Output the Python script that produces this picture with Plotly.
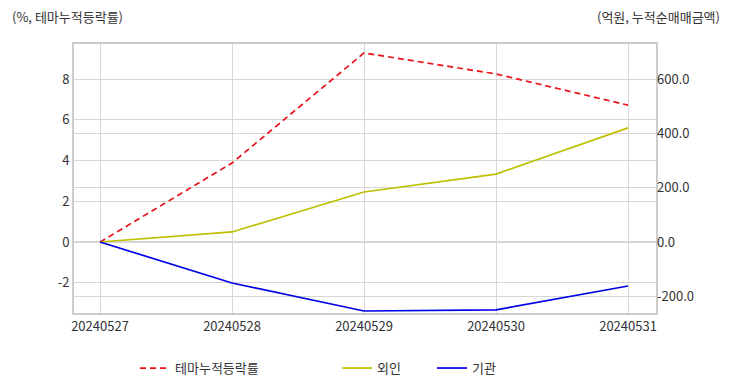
import plotly.graph_objects as go

dates = ["20240527", "20240528", "20240529", "20240530", "20240531"]
theme_rate = [0.0, 3.88, 9.28, 8.25, 6.72]
foreign = [0.0, 37.0, 184.0, 250.0, 420.0]
institution = [0.0, -151.0, -254.0, -250.0, -162.0]

left_ticks = [-2, 0, 2, 4, 6, 8]
left_labels = ["-2", "0", "2", "4", "6", "8"]
right_ticks = [-200, 0, 200, 400, 600]
right_labels = ["-200.0", "0.0", "200.0", "400.0", "600.0"]

FONT = "Noto Sans CJK KR"
TXT = "#333333"

fig = go.Figure()
fig.add_trace(go.Scatter(x=dates, y=theme_rate, name="테마누적등락률", mode="lines",
                         line=dict(color="#e8121a", width=1.7, dash="6px,4px"), yaxis="y",
                         legend="legend"))
fig.add_trace(go.Scatter(x=dates, y=foreign, name="외인", mode="lines",
                         line=dict(color="#bfbf00", width=1.7), yaxis="y2",
                         legend="legend2"))
fig.add_trace(go.Scatter(x=dates, y=institution, name="기관", mode="lines",
                         line=dict(color="#0000e6", width=1.7), yaxis="y2",
                         legend="legend3"))

grid = "#d6d6d6"
lg = dict(orientation="h", y=-0.149, yanchor="top", xanchor="left",
          font=dict(size=13, color=TXT), bgcolor="rgba(0,0,0,0)")
fig.update_layout(
    width=732, height=392,
    margin=dict(l=74, r=76, t=44, b=79, autoexpand=False),
    paper_bgcolor="white", plot_bgcolor="white",
    font=dict(family=FONT, size=13, color=TXT),
    showlegend=True,
    legend=dict(lg, x=(135 - 74) / 582),
    legend2=dict(lg, x=(337 - 74) / 582),
    legend3=dict(lg, x=(432 - 74) / 582),
    xaxis=dict(type="category", range=[-0.197, 4.212], showgrid=True, gridcolor=grid,
               showline=True, linecolor="#cccccc", linewidth=2, mirror=True,
               ticks="", automargin=False, tickfont=dict(size=13, color=TXT)),
    yaxis=dict(range=[-3.48, 9.72], tickvals=left_ticks, ticktext=left_labels,
               showgrid=True, gridcolor=grid, automargin=False,
               zeroline=False, showline=True, linecolor="#cccccc", linewidth=2, mirror=True,
               ticks="", tickfont=dict(size=13, color=TXT)),
    yaxis2=dict(range=[-261.4, 728.9], tickvals=right_ticks, ticktext=right_labels,
                overlaying="y", side="right", automargin=False,
                showgrid=True, gridcolor=grid, zeroline=False,
                ticks="", tickfont=dict(size=13, color=TXT)),
    annotations=[
        dict(text="(%, 테마누적등락률)", xref="paper", yref="paper", x=-74/582, y=1 + 28/269,
             xanchor="left", yanchor="middle", showarrow=False, xshift=10,
             font=dict(size=13, color=TXT)),
        dict(text="(억원, 누적순매매금액)", xref="paper", yref="paper", x=1 + 76/582, y=1 + 28/269,
             xanchor="right", yanchor="middle", showarrow=False, xshift=-10,
             font=dict(size=13, color=TXT)),
    ],
)
fig.write_html("out.html", config={"displayModeBar": False},
               post_script="document.body.style.margin='0px';")
